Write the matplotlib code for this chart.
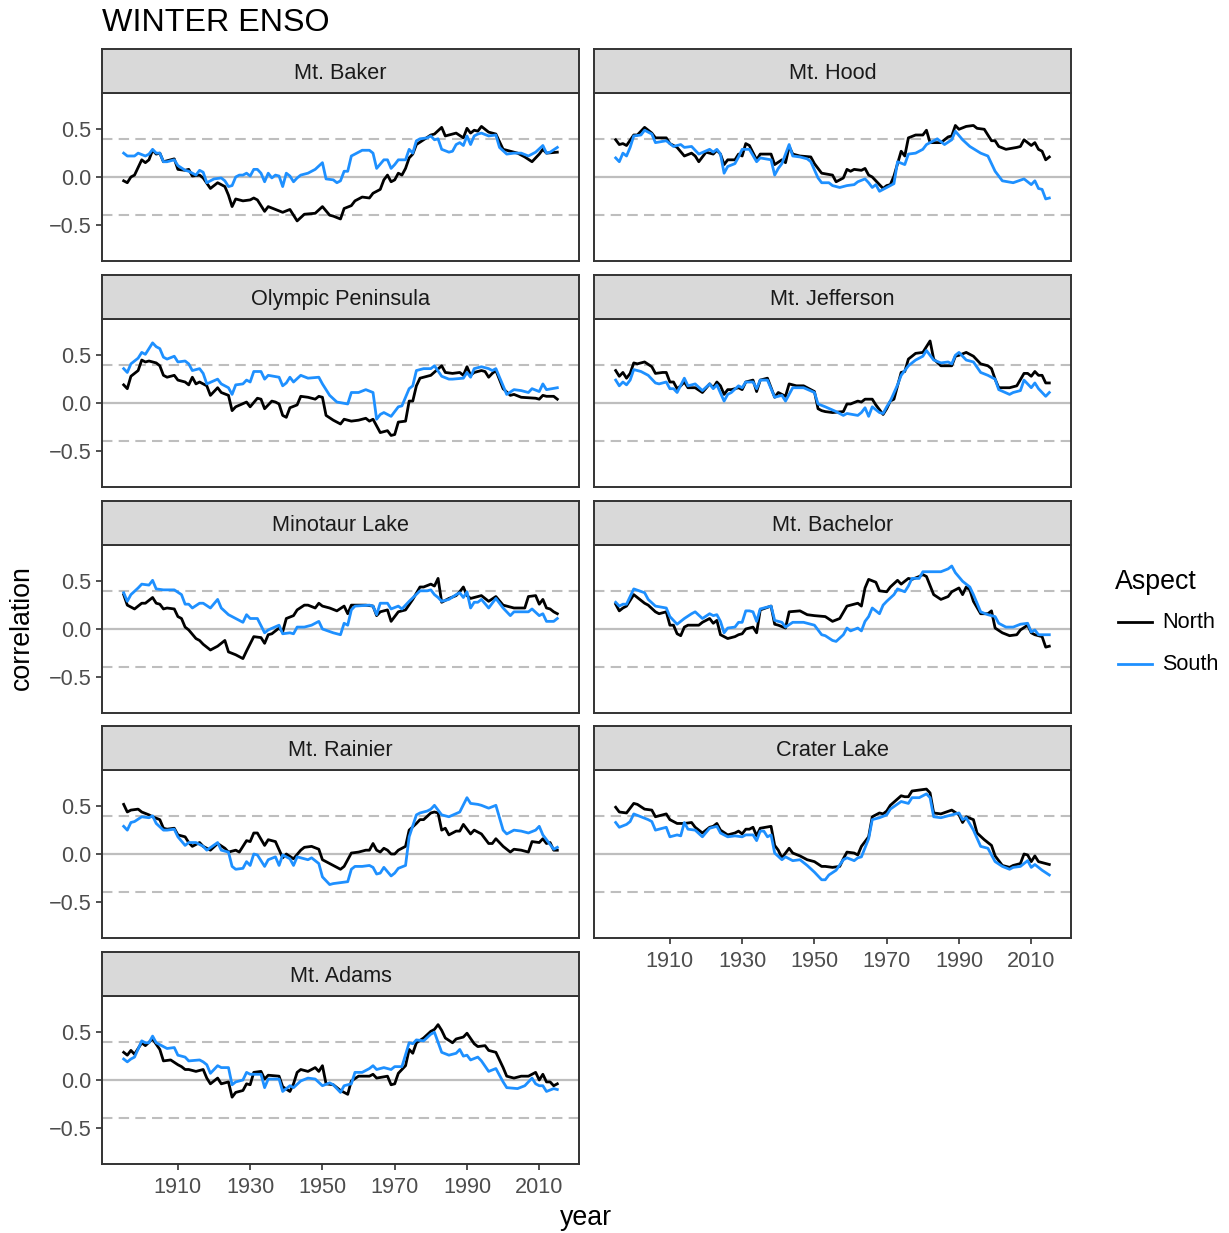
import matplotlib
matplotlib.use("Agg")
import matplotlib.pyplot as plt
from matplotlib.lines import Line2D
import numpy as np

plt.rcParams['font.family'] = ['Liberation Sans', 'DejaVu Sans']

# ---- running winter ENSO correlations, (year, r) ----
baker_north = [(1895,-0.04),(1896,-0.06),(1897,0.00),(1898,0.02),(1900,0.18),(1901,0.15),(1902,0.18),(1903,0.28),(1904,0.24),(1905,0.25),(1906,0.16),(1907,0.17),(1909,0.19),(1910,0.08),(1912,0.07),(1913,0.08),(1914,0.01),(1916,0.02),(1917,-0.01),(1919,-0.12),(1921,-0.06),(1923,-0.10),(1924,-0.19),(1925,-0.31),(1926,-0.23),(1928,-0.25),(1930,-0.24),(1931,-0.22),(1932,-0.24),(1934,-0.36),(1935,-0.31),(1937,-0.34),(1939,-0.37),(1941,-0.34),(1943,-0.46),(1945,-0.39),(1948,-0.38),(1950,-0.31),(1952,-0.40),(1953,-0.41),(1955,-0.44),(1956,-0.33),(1958,-0.30),(1959,-0.25),(1961,-0.21),(1963,-0.22),(1964,-0.17),(1966,-0.13),(1967,-0.03),(1968,0.02),(1969,-0.05),(1970,-0.03),(1971,0.04),(1972,0.02),(1973,0.09),(1974,0.20),(1975,0.24),(1976,0.34),(1978,0.39),(1980,0.44),(1981,0.45),(1983,0.52),(1984,0.43),(1987,0.46),(1989,0.41),(1990,0.51),(1991,0.46),(1992,0.49),(1993,0.48),(1994,0.53),(1995,0.50),(1996,0.47),(1998,0.45),(2000,0.29),(2001,0.28),(2004,0.25),(2006,0.21),(2008,0.16),(2010,0.24),(2011,0.29),(2012,0.25),(2015,0.26)]
baker_south = [(1895,0.25),(1896,0.22),(1898,0.22),(1899,0.25),(1901,0.22),(1902,0.24),(1903,0.29),(1904,0.25),(1905,0.25),(1906,0.16),(1907,0.16),(1909,0.18),(1910,0.12),(1912,0.07),(1913,0.06),(1915,0.02),(1916,0.07),(1917,0.05),(1918,-0.06),(1920,-0.02),(1922,-0.01),(1923,-0.04),(1924,-0.10),(1925,-0.09),(1926,0.00),(1927,0.02),(1928,0.02),(1929,0.04),(1930,0.01),(1931,0.08),(1932,0.08),(1933,0.04),(1934,-0.05),(1935,0.04),(1936,-0.01),(1937,0.02),(1938,0.01),(1939,-0.10),(1940,0.04),(1941,0.01),(1942,-0.05),(1943,-0.01),(1944,0.02),(1946,0.04),(1948,0.08),(1950,0.15),(1951,-0.02),(1953,-0.03),(1954,-0.06),(1955,-0.04),(1956,0.06),(1957,0.06),(1958,0.22),(1959,0.24),(1961,0.28),(1963,0.28),(1964,0.25),(1965,0.09),(1967,0.18),(1968,0.18),(1969,0.09),(1970,0.13),(1971,0.18),(1973,0.18),(1974,0.29),(1975,0.25),(1976,0.38),(1977,0.40),(1979,0.41),(1980,0.43),(1981,0.39),(1982,0.40),(1983,0.29),(1985,0.26),(1986,0.27),(1987,0.34),(1988,0.36),(1989,0.33),(1990,0.43),(1991,0.34),(1992,0.43),(1993,0.45),(1994,0.46),(1996,0.43),(1998,0.44),(1999,0.31),(2001,0.24),(2003,0.25),(2005,0.25),(2007,0.22),(2009,0.26),(2011,0.33),(2012,0.25),(2013,0.26),(2015,0.31)]

hood_north = [(1895,0.39),(1896,0.34),(1897,0.35),(1898,0.33),(1900,0.44),(1901,0.44),(1903,0.52),(1905,0.46),(1906,0.41),(1909,0.41),(1910,0.35),(1912,0.31),(1914,0.22),(1916,0.25),(1917,0.22),(1918,0.16),(1920,0.26),(1922,0.24),(1923,0.28),(1924,0.24),(1925,0.13),(1926,0.18),(1928,0.18),(1929,0.24),(1930,0.22),(1931,0.35),(1932,0.33),(1934,0.18),(1935,0.24),(1938,0.24),(1939,0.13),(1941,0.18),(1942,0.15),(1943,0.32),(1944,0.24),(1946,0.22),(1949,0.21),(1950,0.14),(1952,0.04),(1955,0.02),(1956,-0.05),(1958,-0.01),(1959,0.08),(1960,0.06),(1961,0.08),(1963,0.07),(1964,0.09),(1965,0.02),(1966,0.00),(1968,-0.08),(1969,-0.12),(1970,-0.09),(1971,-0.08),(1972,0.01),(1974,0.27),(1975,0.22),(1976,0.41),(1978,0.44),(1980,0.44),(1981,0.49),(1982,0.36),(1985,0.36),(1987,0.42),(1988,0.43),(1989,0.54),(1990,0.50),(1992,0.53),(1994,0.54),(1995,0.51),(1997,0.50),(1999,0.38),(2000,0.38),(2001,0.32),(2003,0.29),(2006,0.31),(2007,0.32),(2008,0.39),(2010,0.33),(2011,0.36),(2012,0.29),(2013,0.27),(2014,0.18),(2015,0.21)]
hood_south = [(1895,0.20),(1896,0.16),(1897,0.25),(1898,0.22),(1899,0.31),(1900,0.43),(1902,0.44),(1903,0.49),(1905,0.45),(1906,0.36),(1909,0.38),(1911,0.32),(1913,0.34),(1914,0.31),(1916,0.32),(1918,0.24),(1921,0.29),(1922,0.26),(1923,0.29),(1924,0.24),(1925,0.04),(1926,0.11),(1928,0.14),(1929,0.21),(1930,0.29),(1932,0.29),(1934,0.16),(1935,0.20),(1938,0.18),(1939,0.02),(1940,0.09),(1941,0.14),(1943,0.34),(1944,0.22),(1946,0.21),(1948,0.19),(1949,0.16),(1951,-0.01),(1952,-0.06),(1954,-0.06),(1955,-0.09),(1957,-0.11),(1959,-0.09),(1961,-0.08),(1962,-0.05),(1964,-0.02),(1965,-0.06),(1966,-0.11),(1967,-0.08),(1968,-0.15),(1970,-0.11),(1972,-0.07),(1973,0.16),(1975,0.13),(1976,0.24),(1978,0.25),(1980,0.29),(1981,0.34),(1983,0.38),(1984,0.40),(1986,0.34),(1988,0.39),(1989,0.48),(1991,0.39),(1993,0.32),(1996,0.25),(1998,0.22),(2000,0.06),(2002,-0.04),(2005,-0.06),(2008,-0.02),(2010,-0.08),(2011,-0.04),(2012,-0.12),(2013,-0.13),(2014,-0.23),(2015,-0.22)]

olympic_north = [(1895,0.19),(1896,0.15),(1897,0.28),(1899,0.34),(1900,0.45),(1901,0.43),(1902,0.44),(1904,0.42),(1905,0.39),(1906,0.29),(1907,0.27),(1909,0.29),(1910,0.24),(1912,0.22),(1913,0.19),(1914,0.27),(1915,0.20),(1916,0.22),(1918,0.18),(1919,0.08),(1921,0.16),(1922,0.11),(1924,0.08),(1925,-0.08),(1926,-0.04),(1929,0.01),(1930,-0.04),(1932,0.05),(1933,0.04),(1934,-0.06),(1936,0.02),(1937,0.01),(1938,-0.01),(1939,-0.13),(1940,-0.15),(1941,-0.05),(1943,-0.02),(1944,0.07),(1946,0.06),(1948,0.04),(1949,0.07),(1950,0.06),(1951,-0.13),(1953,-0.18),(1955,-0.22),(1956,-0.17),(1958,-0.19),(1960,-0.18),(1962,-0.16),(1963,-0.19),(1964,-0.17),(1966,-0.31),(1968,-0.29),(1969,-0.34),(1970,-0.33),(1971,-0.20),(1973,-0.19),(1974,0.02),(1975,0.02),(1976,0.18),(1977,0.26),(1980,0.29),(1983,0.39),(1984,0.32),(1986,0.31),(1988,0.32),(1989,0.29),(1990,0.38),(1991,0.29),(1992,0.32),(1994,0.34),(1995,0.33),(1996,0.27),(1997,0.31),(1998,0.34),(2000,0.15),(2002,0.08),(2003,0.09),(2005,0.06),(2009,0.05),(2010,0.04),(2011,0.08),(2012,0.07),(2014,0.07),(2015,0.04)]
olympic_south = [(1895,0.36),(1896,0.32),(1897,0.41),(1899,0.47),(1900,0.53),(1901,0.51),(1903,0.63),(1904,0.59),(1905,0.57),(1906,0.48),(1907,0.46),(1909,0.49),(1910,0.43),(1912,0.44),(1913,0.41),(1914,0.34),(1916,0.36),(1917,0.31),(1918,0.20),(1921,0.25),(1922,0.20),(1924,0.16),(1925,0.09),(1926,0.19),(1928,0.20),(1929,0.24),(1930,0.22),(1931,0.33),(1933,0.33),(1934,0.25),(1935,0.29),(1938,0.27),(1939,0.18),(1940,0.21),(1941,0.27),(1942,0.22),(1944,0.29),(1946,0.26),(1949,0.27),(1950,0.20),(1952,0.08),(1954,0.01),(1957,-0.01),(1958,0.11),(1960,0.11),(1962,0.14),(1964,0.11),(1965,-0.17),(1966,-0.12),(1967,-0.10),(1969,-0.14),(1971,-0.04),(1972,-0.03),(1974,0.15),(1975,0.18),(1976,0.34),(1978,0.36),(1980,0.36),(1981,0.39),(1983,0.28),(1985,0.25),(1986,0.25),(1989,0.26),(1990,0.32),(1991,0.27),(1992,0.36),(1994,0.38),(1996,0.36),(1997,0.34),(1998,0.36),(2000,0.18),(2001,0.09),(2003,0.14),(2005,0.13),(2007,0.11),(2008,0.15),(2010,0.12),(2011,0.20),(2012,0.14),(2015,0.16)]

jefferson_north = [(1895,0.34),(1896,0.28),(1897,0.32),(1898,0.26),(1899,0.31),(1900,0.42),(1901,0.41),(1903,0.43),(1905,0.38),(1906,0.31),(1908,0.32),(1909,0.32),(1910,0.22),(1911,0.22),(1912,0.15),(1913,0.18),(1914,0.22),(1915,0.16),(1917,0.16),(1919,0.11),(1921,0.20),(1922,0.16),(1923,0.22),(1924,0.18),(1925,0.09),(1926,0.14),(1927,0.14),(1929,0.16),(1930,0.14),(1931,0.22),(1933,0.24),(1934,0.12),(1935,0.24),(1937,0.26),(1939,0.06),(1940,0.11),(1942,0.07),(1943,0.20),(1945,0.18),(1947,0.18),(1950,0.12),(1951,-0.06),(1952,-0.08),(1953,-0.09),(1955,-0.10),(1958,-0.09),(1959,-0.01),(1960,-0.01),(1962,0.02),(1963,0.01),(1964,0.04),(1965,0.04),(1966,0.04),(1967,-0.02),(1969,-0.12),(1970,-0.06),(1971,0.02),(1972,0.04),(1974,0.32),(1975,0.33),(1976,0.46),(1978,0.52),(1980,0.53),(1981,0.59),(1982,0.65),(1983,0.46),(1985,0.39),(1987,0.39),(1988,0.39),(1989,0.49),(1990,0.50),(1992,0.53),(1994,0.49),(1996,0.41),(1998,0.39),(1999,0.36),(2000,0.25),(2001,0.16),(2004,0.16),(2006,0.18),(2008,0.31),(2009,0.31),(2010,0.28),(2011,0.33),(2012,0.29),(2013,0.29),(2014,0.21),(2015,0.21)]
jefferson_south = [(1895,0.24),(1896,0.18),(1897,0.22),(1898,0.19),(1899,0.24),(1900,0.35),(1902,0.33),(1904,0.29),(1906,0.21),(1907,0.20),(1909,0.22),(1910,0.15),(1911,0.15),(1912,0.11),(1914,0.26),(1915,0.18),(1917,0.20),(1919,0.13),(1921,0.20),(1922,0.15),(1923,0.19),(1925,0.02),(1926,0.09),(1927,0.11),(1929,0.18),(1930,0.16),(1931,0.22),(1933,0.22),(1934,0.15),(1935,0.24),(1937,0.24),(1939,0.06),(1941,0.08),(1942,0.02),(1944,0.16),(1947,0.16),(1950,0.11),(1951,-0.01),(1953,-0.04),(1956,-0.09),(1958,-0.13),(1959,-0.11),(1962,-0.13),(1963,-0.10),(1964,-0.05),(1965,-0.14),(1966,-0.04),(1968,-0.10),(1969,-0.11),(1970,-0.04),(1971,0.02),(1973,0.19),(1974,0.29),(1976,0.39),(1978,0.45),(1980,0.49),(1981,0.55),(1983,0.45),(1985,0.42),(1987,0.43),(1988,0.41),(1989,0.50),(1990,0.53),(1992,0.45),(1994,0.43),(1996,0.32),(1998,0.29),(2000,0.25),(2001,0.14),(2004,0.09),(2005,0.11),(2007,0.13),(2008,0.24),(2010,0.16),(2011,0.21),(2012,0.15),(2014,0.07),(2015,0.11)]

minotaur_north = [(1895,0.36),(1896,0.25),(1898,0.21),(1900,0.27),(1901,0.27),(1903,0.33),(1904,0.27),(1905,0.26),(1906,0.21),(1907,0.22),(1909,0.21),(1910,0.13),(1911,0.11),(1912,0.02),(1913,-0.01),(1915,-0.10),(1916,-0.12),(1917,-0.16),(1919,-0.22),(1921,-0.18),(1923,-0.12),(1924,-0.24),(1926,-0.27),(1928,-0.31),(1929,-0.23),(1931,-0.08),(1933,-0.09),(1934,-0.15),(1935,-0.06),(1936,-0.05),(1938,0.01),(1939,-0.03),(1940,0.11),(1942,0.14),(1943,0.20),(1945,0.25),(1946,0.25),(1948,0.22),(1949,0.27),(1950,0.24),(1952,0.22),(1954,0.19),(1956,0.24),(1957,0.16),(1958,0.25),(1962,0.25),(1964,0.24),(1965,0.14),(1966,0.18),(1968,0.20),(1969,0.08),(1971,0.18),(1973,0.20),(1975,0.31),(1977,0.44),(1978,0.44),(1980,0.47),(1981,0.45),(1982,0.53),(1983,0.28),(1985,0.32),(1987,0.35),(1988,0.39),(1989,0.44),(1990,0.35),(1991,0.32),(1994,0.35),(1996,0.29),(1998,0.34),(2000,0.25),(2003,0.22),(2006,0.22),(2007,0.34),(2009,0.35),(2010,0.26),(2011,0.31),(2012,0.22),(2013,0.21),(2014,0.18),(2015,0.16)]
minotaur_south = [(1895,0.38),(1896,0.29),(1897,0.36),(1899,0.43),(1900,0.47),(1902,0.46),(1903,0.51),(1904,0.42),(1906,0.41),(1909,0.41),(1911,0.36),(1912,0.26),(1913,0.26),(1914,0.22),(1916,0.27),(1917,0.27),(1919,0.22),(1921,0.31),(1922,0.22),(1924,0.15),(1926,0.11),(1928,0.07),(1929,0.15),(1930,0.11),(1932,0.11),(1934,-0.04),(1935,-0.01),(1938,0.04),(1939,-0.05),(1941,-0.04),(1942,-0.05),(1943,0.02),(1945,0.02),(1947,0.04),(1949,0.08),(1950,0.00),(1953,-0.04),(1955,-0.06),(1956,0.06),(1957,0.04),(1958,0.20),(1959,0.24),(1963,0.25),(1964,0.24),(1965,0.15),(1966,0.27),(1968,0.27),(1969,0.21),(1971,0.24),(1972,0.21),(1974,0.29),(1977,0.40),(1979,0.40),(1980,0.41),(1981,0.36),(1982,0.33),(1983,0.29),(1985,0.31),(1987,0.36),(1988,0.38),(1989,0.33),(1990,0.39),(1991,0.22),(1992,0.28),(1993,0.28),(1994,0.31),(1996,0.22),(1998,0.32),(2000,0.22),(2002,0.14),(2003,0.18),(2007,0.18),(2008,0.21),(2010,0.14),(2011,0.16),(2012,0.08),(2014,0.08),(2015,0.11)]

bachelor_north = [(1895,0.26),(1896,0.19),(1897,0.22),(1898,0.24),(1900,0.36),(1901,0.33),(1903,0.27),(1904,0.25),(1906,0.18),(1907,0.16),(1909,0.18),(1910,0.04),(1911,0.04),(1912,-0.05),(1913,-0.07),(1914,0.02),(1915,0.04),(1917,0.04),(1918,0.04),(1919,0.07),(1921,0.11),(1922,0.06),(1923,0.09),(1924,-0.06),(1926,-0.10),(1928,-0.08),(1929,-0.06),(1930,-0.05),(1931,0.00),(1933,0.02),(1934,-0.04),(1935,0.20),(1938,0.24),(1939,0.05),(1940,0.04),(1942,0.01),(1943,0.18),(1946,0.19),(1948,0.15),(1950,0.14),(1953,0.13),(1955,0.08),(1957,0.11),(1959,0.24),(1960,0.25),(1962,0.27),(1963,0.24),(1964,0.43),(1965,0.52),(1967,0.49),(1968,0.40),(1970,0.39),(1971,0.44),(1973,0.51),(1974,0.47),(1976,0.53),(1977,0.52),(1979,0.55),(1980,0.57),(1981,0.55),(1983,0.36),(1985,0.31),(1987,0.34),(1988,0.39),(1990,0.43),(1991,0.36),(1992,0.44),(1993,0.41),(1994,0.29),(1996,0.16),(1998,0.16),(1999,0.19),(2000,0.01),(2002,-0.04),(2004,-0.07),(2006,-0.06),(2007,-0.01),(2009,0.04),(2010,-0.04),(2011,-0.06),(2013,-0.08),(2014,-0.19),(2015,-0.18)]
bachelor_south = [(1895,0.28),(1896,0.24),(1897,0.26),(1898,0.26),(1900,0.42),(1903,0.38),(1904,0.31),(1906,0.24),(1909,0.22),(1910,0.13),(1911,0.09),(1912,0.05),(1914,0.11),(1916,0.16),(1917,0.18),(1919,0.11),(1921,0.16),(1922,0.14),(1923,0.15),(1924,0.08),(1925,-0.04),(1926,0.01),(1928,0.02),(1929,0.07),(1930,0.07),(1931,0.19),(1932,0.19),(1933,0.18),(1934,0.08),(1935,0.21),(1938,0.24),(1939,0.09),(1941,0.07),(1942,0.02),(1944,0.07),(1947,0.07),(1950,0.04),(1952,-0.06),(1953,-0.07),(1955,-0.12),(1956,-0.13),(1958,-0.06),(1959,0.01),(1960,-0.02),(1962,0.01),(1963,-0.02),(1964,0.08),(1965,0.13),(1966,0.22),(1968,0.16),(1969,0.25),(1970,0.29),(1972,0.36),(1973,0.42),(1975,0.39),(1976,0.45),(1977,0.53),(1979,0.53),(1980,0.60),(1983,0.60),(1985,0.60),(1987,0.63),(1988,0.66),(1989,0.59),(1991,0.50),(1993,0.44),(1994,0.36),(1996,0.18),(1998,0.15),(2000,0.13),(2001,0.06),(2003,0.02),(2005,0.02),(2007,0.05),(2009,0.06),(2010,-0.03),(2011,-0.01),(2012,-0.06),(2015,-0.06)]

rainier_north = [(1895,0.52),(1896,0.44),(1897,0.46),(1899,0.47),(1900,0.44),(1902,0.41),(1903,0.39),(1905,0.36),(1906,0.27),(1907,0.26),(1909,0.27),(1910,0.20),(1912,0.18),(1913,0.12),(1914,0.08),(1916,0.12),(1917,0.08),(1919,0.04),(1921,0.11),(1923,0.06),(1924,0.02),(1926,0.04),(1927,0.02),(1929,0.14),(1930,0.13),(1931,0.22),(1932,0.22),(1934,0.09),(1935,0.15),(1937,0.13),(1939,-0.04),(1940,0.00),(1942,-0.05),(1944,0.04),(1945,0.07),(1947,0.08),(1949,0.05),(1950,-0.06),(1952,-0.10),(1953,-0.12),(1955,-0.16),(1956,-0.13),(1958,0.01),(1960,0.02),(1962,0.04),(1963,0.04),(1964,0.11),(1965,0.04),(1966,0.02),(1967,0.06),(1968,0.04),(1969,0.00),(1970,0.00),(1971,0.04),(1973,0.08),(1974,0.25),(1976,0.32),(1977,0.36),(1978,0.36),(1980,0.43),(1981,0.44),(1982,0.43),(1983,0.25),(1984,0.27),(1985,0.20),(1987,0.24),(1988,0.24),(1989,0.31),(1991,0.21),(1992,0.25),(1994,0.21),(1996,0.11),(1997,0.11),(1998,0.16),(2000,0.08),(2002,0.02),(2003,0.05),(2005,0.04),(2007,0.02),(2008,0.13),(2010,0.12),(2011,0.16),(2012,0.11),(2013,0.12),(2014,0.04),(2015,0.04)]
rainier_south = [(1895,0.29),(1896,0.25),(1897,0.33),(1898,0.34),(1900,0.39),(1902,0.38),(1903,0.40),(1904,0.32),(1906,0.25),(1907,0.25),(1909,0.26),(1910,0.18),(1912,0.09),(1913,0.12),(1915,0.12),(1917,0.08),(1918,0.04),(1921,0.12),(1922,0.04),(1924,0.02),(1925,-0.13),(1926,-0.16),(1928,-0.15),(1929,-0.08),(1930,-0.12),(1931,0.00),(1932,-0.01),(1934,-0.13),(1935,-0.06),(1937,-0.03),(1938,-0.12),(1939,-0.01),(1941,-0.05),(1942,-0.12),(1943,-0.03),(1946,-0.06),(1947,-0.04),(1949,-0.10),(1950,-0.24),(1952,-0.32),(1953,-0.31),(1955,-0.30),(1957,-0.29),(1958,-0.16),(1959,-0.13),(1961,-0.13),(1963,-0.12),(1964,-0.14),(1965,-0.21),(1966,-0.20),(1967,-0.14),(1969,-0.23),(1970,-0.20),(1971,-0.15),(1973,-0.12),(1974,0.18),(1976,0.41),(1977,0.43),(1979,0.45),(1980,0.47),(1981,0.51),(1983,0.41),(1985,0.39),(1988,0.44),(1990,0.59),(1991,0.53),(1993,0.52),(1994,0.51),(1996,0.48),(1998,0.51),(2000,0.25),(2001,0.21),(2003,0.25),(2005,0.24),(2007,0.22),(2009,0.25),(2010,0.29),(2011,0.20),(2012,0.15),(2014,0.05),(2015,0.07)]

crater_north = [(1895,0.49),(1896,0.44),(1898,0.43),(1900,0.53),(1901,0.52),(1903,0.47),(1905,0.46),(1906,0.39),(1907,0.40),(1909,0.42),(1910,0.36),(1911,0.34),(1912,0.32),(1914,0.32),(1916,0.33),(1917,0.28),(1919,0.22),(1921,0.28),(1922,0.29),(1923,0.32),(1924,0.25),(1926,0.20),(1928,0.22),(1929,0.24),(1930,0.21),(1931,0.26),(1932,0.26),(1933,0.28),(1934,0.19),(1935,0.27),(1938,0.29),(1939,0.09),(1940,0.04),(1941,-0.04),(1943,0.06),(1944,0.01),(1946,-0.02),(1948,-0.06),(1950,-0.08),(1952,-0.13),(1953,-0.13),(1955,-0.14),(1957,-0.13),(1958,-0.05),(1959,0.02),(1961,0.01),(1962,-0.01),(1963,0.08),(1965,0.18),(1966,0.39),(1968,0.43),(1969,0.42),(1970,0.45),(1971,0.51),(1974,0.61),(1975,0.60),(1976,0.60),(1977,0.66),(1979,0.67),(1981,0.68),(1982,0.64),(1983,0.43),(1985,0.42),(1988,0.46),(1990,0.41),(1991,0.33),(1992,0.39),(1994,0.36),(1995,0.22),(1997,0.15),(1999,0.09),(2000,-0.02),(2002,-0.12),(2004,-0.14),(2005,-0.12),(2007,-0.10),(2008,0.00),(2009,-0.01),(2010,-0.08),(2011,-0.02),(2012,-0.08),(2015,-0.11)]
crater_south = [(1895,0.33),(1896,0.28),(1898,0.31),(1899,0.34),(1900,0.42),(1902,0.39),(1904,0.36),(1905,0.34),(1906,0.25),(1907,0.26),(1909,0.28),(1910,0.18),(1912,0.20),(1913,0.19),(1914,0.33),(1915,0.26),(1917,0.25),(1919,0.18),(1921,0.27),(1923,0.29),(1924,0.22),(1926,0.18),(1928,0.19),(1930,0.18),(1931,0.20),(1933,0.20),(1934,0.14),(1935,0.24),(1936,0.24),(1937,0.18),(1938,0.20),(1939,0.01),(1941,-0.06),(1942,-0.03),(1944,-0.07),(1946,-0.06),(1948,-0.12),(1950,-0.19),(1952,-0.27),(1953,-0.27),(1954,-0.22),(1956,-0.17),(1958,-0.06),(1959,-0.04),(1961,-0.07),(1962,-0.04),(1963,-0.03),(1965,0.16),(1966,0.36),(1968,0.38),(1970,0.41),(1971,0.47),(1974,0.55),(1976,0.53),(1977,0.59),(1979,0.59),(1981,0.63),(1982,0.59),(1983,0.39),(1985,0.38),(1988,0.41),(1990,0.43),(1991,0.36),(1992,0.38),(1994,0.25),(1996,0.08),(1998,0.06),(2000,-0.08),(2002,-0.13),(2004,-0.16),(2005,-0.14),(2007,-0.13),(2009,-0.07),(2010,-0.14),(2011,-0.11),(2013,-0.17),(2015,-0.22)]

adams_north = [(1895,0.29),(1896,0.26),(1897,0.31),(1898,0.27),(1900,0.39),(1901,0.36),(1903,0.43),(1905,0.32),(1906,0.20),(1908,0.21),(1910,0.16),(1911,0.14),(1912,0.11),(1913,0.11),(1915,0.09),(1917,0.11),(1918,0.02),(1919,-0.04),(1921,0.02),(1922,-0.04),(1924,-0.02),(1925,-0.18),(1926,-0.13),(1928,-0.11),(1929,-0.04),(1930,-0.05),(1931,0.08),(1933,0.09),(1934,0.01),(1935,0.05),(1938,0.04),(1939,-0.07),(1941,-0.12),(1942,-0.04),(1943,0.08),(1944,0.11),(1946,0.09),(1948,0.13),(1949,0.09),(1950,0.15),(1951,-0.04),(1953,-0.05),(1955,-0.11),(1957,-0.15),(1958,-0.01),(1960,0.04),(1963,0.04),(1964,0.06),(1965,0.02),(1968,0.04),(1969,-0.05),(1970,-0.04),(1971,0.07),(1973,0.15),(1974,0.32),(1975,0.28),(1976,0.39),(1978,0.44),(1980,0.51),(1981,0.53),(1982,0.58),(1983,0.52),(1984,0.44),(1986,0.39),(1987,0.43),(1989,0.45),(1990,0.49),(1992,0.38),(1993,0.35),(1995,0.36),(1996,0.31),(1998,0.29),(2000,0.13),(2001,0.04),(2003,0.02),(2005,0.04),(2007,0.04),(2009,0.08),(2010,0.00),(2011,0.06),(2012,-0.02),(2013,-0.02),(2014,-0.06),(2015,-0.04)]
adams_south = [(1895,0.22),(1896,0.19),(1897,0.22),(1898,0.24),(1900,0.41),(1901,0.39),(1902,0.39),(1903,0.46),(1904,0.39),(1906,0.35),(1907,0.33),(1909,0.34),(1910,0.26),(1912,0.24),(1913,0.20),(1916,0.21),(1917,0.19),(1918,0.16),(1919,0.07),(1921,0.15),(1922,0.13),(1924,0.13),(1925,-0.05),(1926,-0.02),(1928,0.00),(1929,0.08),(1930,0.06),(1933,0.06),(1934,-0.08),(1935,0.01),(1938,0.01),(1939,-0.12),(1941,-0.06),(1942,-0.08),(1944,-0.01),(1946,0.02),(1948,0.01),(1950,-0.06),(1952,-0.03),(1953,-0.05),(1955,-0.13),(1956,-0.06),(1958,-0.04),(1959,0.08),(1961,0.08),(1963,0.12),(1964,0.15),(1965,0.11),(1967,0.13),(1969,0.11),(1970,0.14),(1972,0.14),(1974,0.39),(1975,0.38),(1976,0.42),(1978,0.41),(1980,0.48),(1981,0.50),(1983,0.29),(1985,0.26),(1987,0.28),(1988,0.32),(1989,0.25),(1990,0.26),(1991,0.21),(1993,0.24),(1994,0.20),(1996,0.09),(1998,0.12),(2000,-0.02),(2001,-0.08),(2004,-0.09),(2006,-0.06),(2008,0.02),(2009,-0.04),(2010,-0.06),(2011,-0.06),(2012,-0.12),(2014,-0.09),(2015,-0.10)]

sites = ["Mt. Baker", "Mt. Hood", "Olympic Peninsula", "Mt. Jefferson",
         "Minotaur Lake", "Mt. Bachelor", "Mt. Rainier", "Crater Lake", "Mt. Adams"]
north_series = [baker_north, hood_north, olympic_north, jefferson_north,
                minotaur_north, bachelor_north, rainier_north, crater_north, adams_north]
south_series = [baker_south, hood_south, olympic_south, jefferson_south,
                minotaur_south, bachelor_south, rainier_south, crater_south, adams_south]

aspects = ["North", "South"]
aspect_colors = {"North": "#000000", "South": "#1E90FF"}
year_ticks = [1910, 1930, 1950, 1970, 1990, 2010]
r_ticks = [-0.5, 0.0, 0.5]
r_ticklabels = ["\u22120.5", "0.0", "0.5"]
sig_level = 0.4

# ---- layout (pixels) ----
W, H = 1229, 1233
fig = plt.figure(figsize=(W / 100, H / 100), dpi=100)
fig.patch.set_facecolor("white")

col_left = [102, 594]
panel_w = 477
row_top = [93, 319, 545, 770, 996]
panel_h = 168
strip_h = 44
border = "#333333"
tick_fs = 15.6


def px_rect(x0, y0, w, h):
    return [x0 / W, 1 - (y0 + h) / H, w / W, h / H]


bottom_panels = {7, 8}
for i, site in enumerate(sites):
    r, c = divmod(i, 2)
    x0, y0 = col_left[c], row_top[r]
    ax = fig.add_axes(px_rect(x0, y0, panel_w, panel_h))
    ax.set_xlim(1889, 2021)
    ax.set_ylim(-0.88, 0.88)
    ax.axhline(0, color="#BEBEBE", lw=1.6, zorder=1)
    for s in (-sig_level, sig_level):
        ax.axhline(s, color="#BEBEBE", lw=1.5, dashes=(5, 3), zorder=1)
    for asp, series in zip(aspects, (north_series[i], south_series[i])):
        pts = np.array(sorted(series))
        ax.plot(pts[:, 0], pts[:, 1], color=aspect_colors[asp], lw=2.0,
                solid_joinstyle="round", zorder=3)
    for sp in ax.spines.values():
        sp.set_color(border)
        sp.set_linewidth(1.4)
    if c == 0:
        ax.set_yticks(r_ticks)
        ax.set_yticklabels(r_ticklabels)
        ax.tick_params(axis="y", length=4.5, width=1.2, color=border,
                       labelcolor="#4D4D4D", labelsize=tick_fs, pad=3)
    else:
        ax.set_yticks([])
    if i in bottom_panels:
        ax.set_xticks(year_ticks)
        ax.tick_params(axis="x", length=4.5, width=1.2, color=border,
                       labelcolor="#4D4D4D", labelsize=tick_fs, pad=5)
    else:
        ax.set_xticks([])

    # facet strip
    sax = fig.add_axes(px_rect(x0, y0 - strip_h, panel_w, strip_h))
    sax.set_facecolor("#D9D9D9")
    sax.set_xticks([])
    sax.set_yticks([])
    for sp in sax.spines.values():
        sp.set_color(border)
        sp.set_linewidth(1.4)
    sax.text(0.5, 0.45, site, ha="center", va="center", fontsize=tick_fs,
             color="#1A1A1A", transform=sax.transAxes)

# titles
fig.text(102 / W, 1 - 23 / H, "WINTER ENSO", fontsize=23.2, ha="left", va="center")
fig.text(22 / W, 1 - 628 / H, "correlation", fontsize=19.3, rotation=90,
         ha="center", va="center")
fig.text(586 / W, 1 - 1218 / H, "year", fontsize=19.3, ha="center", va="center")

# legend
fig.text(1115 / W, 1 - 582 / H, "Aspect", fontsize=19.3, ha="left", va="center")
for k, asp in enumerate(aspects):
    yk = 622 + 42 * k
    fig.add_artist(Line2D([1118 / W, 1152 / W], [1 - yk / H, 1 - yk / H],
                          color=aspect_colors[asp], lw=2.0,
                          transform=fig.transFigure))
    fig.text(1162 / W, 1 - (yk + 1) / H, asp, fontsize=tick_fs,
             ha="left", va="center")

fig.savefig("out.png", dpi=100, facecolor="white")
